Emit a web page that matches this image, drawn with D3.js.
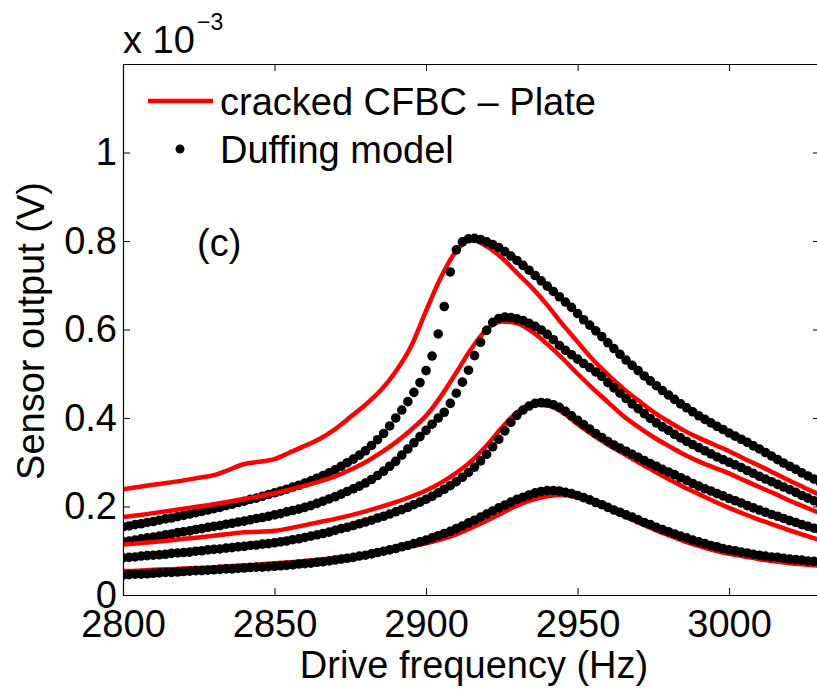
<!DOCTYPE html>
<html>
<head>
<meta charset="utf-8">
<script src="https://cdn.jsdelivr.net/npm/d3@7"></script>
<style>
body {margin:0; background:#fff}
svg {display:block; font-family:"Liberation Sans", Arial, sans-serif}
</style>
</head>
<body>
<svg id="chart"></svg>
<script>
// values in units of 1e-3 V
var freqTicks = [2800, 2850, 2900, 2950, 3000]
var voltTicks = [0, 0.2, 0.4, 0.6, 0.8, 1]
var legendLabels = ["cracked CFBC \u2013 Plate", "Duffing model"]

// measured sweep, every 5 Hz
var expFreq = d3.range(2800, 3031, 5)
var exp1 = [.239,.244,.249,.254,.259,.265,.271,.283,.296,.301,
            .307,.322,.337,.353,.375,.402,.430,.462,.505,.561,
            .642,.719,.778,.803,.788,.762,.728,.694,.655,.612,
            .572,.532,.498,.467,.440,.414,.392,.372,.355,.340,
            .325,.308,.292,.275,.258,.242,.226]
var exp2 = [.176,.180,.185,.190,.195,.200,.205,.211,.217,.223,
            .230,.238,.247,.257,.268,.283,.300,.321,.345,.373,
            .405,.450,.503,.557,.600,.618,.614,.595,.567,.535,
            .500,.467,.436,.405,.380,.357,.337,.318,.302,.288,
            .275,.259,.244,.229,.213,.199,.185]
var exp3 = [.114,.117,.120,.123,.127,.130,.134,.138,.142,.143,
            .145,.151,.158,.165,.172,.180,.189,.199,.210,.222,
            .236,.254,.276,.303,.338,.378,.413,.430,.428,.413,
            .386,.362,.340,.320,.300,.281,.262,.244,.228,.212,
            .197,.183,.170,.158,.146,.135,.124]
var exp4 = [.054,.055,.057,.058,.060,.061,.063,.065,.067,.069,
            .072,.074,.077,.080,.084,.088,.092,.097,.103,.110,
            .117,.126,.137,.152,.168,.185,.202,.215,.223,.226,
            .220,.209,.195,.179,.164,.149,.135,.122,.111,.101,
            .093,.087,.081,.076,.072,.069,.066]

// Duffing model, every 2 Hz
var modelFreq = d3.range(2800, 3031, 2)
var model1 = [.154,.156,.159,.161,.164,.166,.169,.172,.174,.177,
              .180,.183,.186,.189,.192,.195,.198,.202,.205,.209,
              .212,.216,.219,.223,.227,.231,.235,.239,.244,.248,
              .253,.258,.264,.270,.276,.283,.291,.299,.307,.316,
              .326,.338,.351,.365,.382,.400,.418,.437,.458,.480,
              .507,.540,.590,.652,.730,.780,.798,.805,.806,.803,
              .798,.792,.785,.776,.766,.756,.745,.734,.722,.710,
              .698,.686,.674,.662,.650,.636,.622,.610,.597,.584,
              .570,.557,.544,.531,.519,.507,.495,.484,.473,.462,
              .452,.442,.432,.423,.414,.405,.397,.389,.381,.374,
              .366,.359,.352,.345,.337,.330,.322,.314,.306,.298,
              .291,.284,.276,.269,.262,.255]
var model2 = [.120,.122,.124,.127,.129,.131,.133,.136,.138,.141,
              .143,.145,.148,.150,.153,.155,.157,.160,.162,.165,
              .167,.170,.173,.175,.178,.181,.184,.188,.191,.194,
              .198,.202,.207,.212,.217,.222,.228,.234,.240,.246,
              .253,.261,.270,.280,.291,.302,.316,.330,.344,.358,
              .372,.386,.400,.413,.433,.456,.481,.508,.541,.571,
              .598,.616,.625,.628,.627,.624,.620,.614,.607,.599,
              .589,.577,.564,.553,.543,.533,.523,.514,.504,.494,
              .480,.468,.456,.444,.432,.421,.410,.399,.389,.380,
              .372,.363,.355,.347,.340,.333,.326,.319,.312,.306,
              .300,.294,.288,.281,.275,.268,.262,.256,.250,.244,
              .238,.232,.225,.219,.213,.207]
var model3 = [.084,.085,.086,.088,.089,.090,.091,.092,.094,.095,
              .096,.097,.099,.100,.102,.103,.104,.106,.107,.109,
              .110,.112,.113,.115,.116,.118,.120,.122,.125,.127,
              .130,.133,.136,.139,.142,.146,.150,.153,.157,.161,
              .165,.169,.174,.178,.183,.188,.193,.198,.204,.210,
              .216,.223,.231,.239,.247,.256,.266,.277,.289,.303,
              .318,.335,.352,.371,.390,.406,.418,.427,.433,.435,
              .434,.430,.424,.415,.405,.395,.385,.375,.365,.356,
              .347,.339,.332,.325,.318,.311,.304,.297,.291,.284,
              .278,.272,.265,.259,.252,.246,.240,.235,.229,.224,
              .218,.213,.208,.202,.197,.192,.187,.182,.178,.173,
              .168,.164,.159,.155,.151,.147]
var model4 = [.045,.046,.047,.047,.048,.049,.050,.051,.051,.052,
              .053,.054,.055,.055,.056,.057,.058,.059,.059,.060,
              .061,.062,.063,.063,.064,.065,.066,.067,.068,.070,
              .071,.072,.074,.075,.077,.079,.081,.083,.085,.088,
              .090,.093,.096,.099,.102,.105,.109,.112,.116,.120,
              .124,.129,.134,.139,.144,.150,.156,.163,.169,.176,
              .183,.190,.197,.203,.210,.216,.221,.226,.231,.234,
              .236,.236,.235,.232,.229,.225,.220,.215,.209,.204,
              .198,.192,.187,.181,.176,.170,.164,.159,.153,.148,
              .143,.138,.133,.129,.124,.120,.116,.112,.109,.105,
              .102,.100,.097,.095,.092,.090,.088,.086,.085,.083,
              .081,.080,.079,.077,.076,.075]

var expSeries = [exp1, exp2, exp3, exp4]
var modelSeries = [model1, model2, model3, model4]

const svgWidth = 817
const svgHeight = 691
var plotLeft = 123, plotRight = 820, plotTop = 64, plotBottom = 595
var fontSize = 38
var redColor = "#ff0000"
var dotR = 4.8

var svg = d3.select("#chart")
    .attr("width", svgWidth)
    .attr("height", svgHeight)

var xScale = d3.scaleLinear().domain([2800, 3030]).range([plotLeft, plotRight])
var yScale = d3.scaleLinear().domain([0, 1.2]).range([plotBottom, plotTop])

svg.append("clipPath").attr("id", "plot-clip")
    .append("rect")
    .attr("x", plotLeft).attr("y", plotTop)
    .attr("width", plotRight - plotLeft).attr("height", plotBottom - plotTop)

var plot = svg.append("g").attr("clip-path", "url(#plot-clip)")

var line = d3.line()
    .x((d, i) => xScale(expFreq[i]))
    .y(d => yScale(d))
    .curve(d3.curveMonotoneX)

// draw each pair: measured line, then model dots
expSeries.forEach(function(vals, k) {
    plot.append("path")
        .datum(vals)
        .attr("d", line)
        .style("fill", "none")
        .style("stroke", redColor)
        .style("stroke-width", "4.5px")
        .style("stroke-linejoin", "round")

    plot.append("g")
        .selectAll("circle")
        .data(modelSeries[k])
        .enter()
        .append("circle")
        .attr("cx", (d, i) => xScale(modelFreq[i]))
        .attr("cy", d => yScale(d))
        .attr("r", dotR)
        .style("fill", "black")
})

// axes with inward ticks
svg.append("g")
    .attr("transform", "translate(0," + plotBottom + ")")
    .call(d3.axisBottom(xScale).tickValues(freqTicks).tickSize(-7).tickSizeOuter(0).tickPadding(15).tickFormat(d3.format("d")))
svg.append("g")
    .attr("transform", "translate(0," + plotTop + ")")
    .call(d3.axisTop(xScale).tickValues(freqTicks).tickSize(-7).tickSizeOuter(0).tickFormat(""))
svg.append("g")
    .attr("transform", "translate(" + plotLeft + ",0)")
    .call(d3.axisLeft(yScale).tickValues(voltTicks).tickSize(-7).tickSizeOuter(0).tickPadding(6).tickFormat(d3.format("~g")))
svg.append("g")
    .attr("transform", "translate(" + plotRight + ",0)")
    .call(d3.axisRight(yScale).tickValues(voltTicks).tickSize(-7).tickSizeOuter(0).tickFormat(""))

svg.selectAll(".domain").style("stroke", "black").style("stroke-width", "1.2px")
svg.selectAll(".tick line").style("stroke", "black").style("stroke-width", "1px")
svg.selectAll(".tick text")
    .style("font-size", fontSize + "px")
    .style("font-family", "'Liberation Sans', Arial, sans-serif")
    .style("fill", "black")

// axis titles
svg.append("text")
    .attr("x", 474)
    .attr("y", 678)
    .attr("text-anchor", "middle")
    .style("font-size", fontSize + "px")
    .text("Drive frequency (Hz)")

svg.append("text")
    .attr("transform", "translate(44,331) rotate(-90)")
    .attr("text-anchor", "middle")
    .style("font-size", fontSize + "px")
    .text("Sensor output (V)")

// exponent
svg.append("text")
    .attr("x", 123)
    .attr("y", 53)
    .style("font-size", fontSize + "px")
    .text("x 10")
svg.append("text")
    .attr("x", 197)
    .attr("y", 30)
    .style("font-size", "23px")
    .text("\u22123")

// panel label
svg.append("text")
    .attr("x", 197)
    .attr("y", 256)
    .style("font-size", fontSize + "px")
    .text("(c)")

// legend
var legend = svg.append("g")
legend.append("line")
    .attr("x1", 148).attr("x2", 213)
    .attr("y1", 101).attr("y2", 101)
    .style("stroke", redColor)
    .style("stroke-width", "4.5px")
legend.append("circle")
    .attr("cx", 180).attr("cy", 149)
    .attr("r", 4.5)
    .style("fill", "black")
legend.selectAll("text")
    .data(legendLabels)
    .enter()
    .append("text")
    .attr("x", 220)
    .attr("y", (d, i) => 115 + i * 48)
    .style("font-size", fontSize + "px")
    .text(d => d)
</script>
</body>
</html>
